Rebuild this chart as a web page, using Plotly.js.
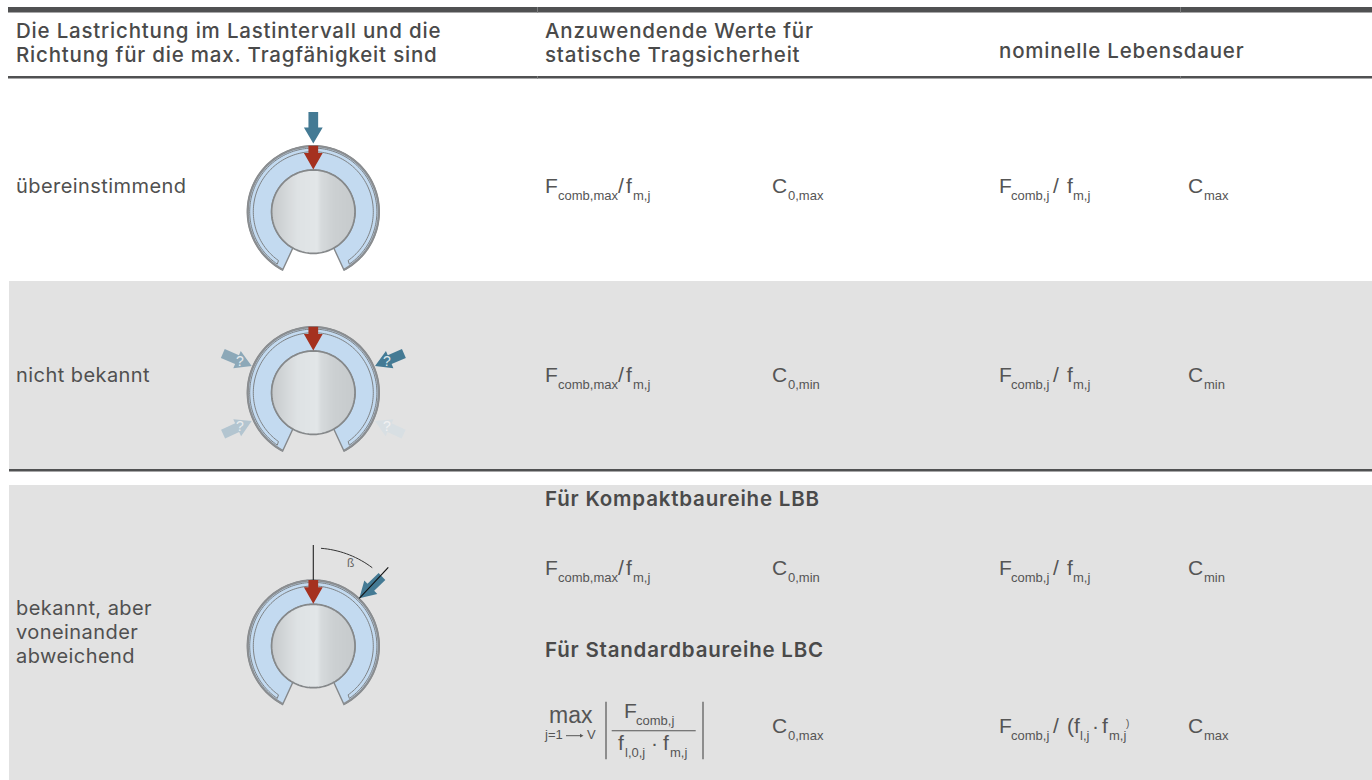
<!DOCTYPE html>
<html><head><meta charset="utf-8">
<script src="https://cdn.plot.ly/plotly-3.0.1.min.js"></script>
<style>
html,body{margin:0;padding:0;background:#fff;overflow:hidden}
text.annotation-text[style*="Inter"]{letter-spacing:.44px}
text.annotation-text[style*="Inter"][style*="font-weight: 500"],
text.annotation-text[style*="Inter"][style*="font-weight: 600"]{letter-spacing:.8px}
</style></head><body><div id="chart" style="width:1372px;height:780px"></div>
<script>
// ---- Text content ----
const headerCol1 = ["Die Lastrichtung im Lastintervall und die", "Richtung für die max. Tragfähigkeit sind"];
const headerCol2 = ["Anzuwendende Werte für", "statische Tragsicherheit"];
const headerCol3 = ["nominelle Lebensdauer"];
const rowLabels = ["übereinstimmend", "nicht bekannt"];
const rowLabelThree = ["bekannt, aber", "voneinander", "abweichend"];
const sectionHeads = ["Für Kompaktbaureihe LBB", "Für Standardbaureihe LBC"];
const staticSub = ["0,max", "0,min", "0,min", "0,max"];
const lifeSub = ["max", "min", "min", "max"];
const angleLabel = "ß";
const questionMark = "?";

const INK = "#505050", FORM = "#555555", GREY = "#e2e2e2", RULE = "#505152";
const HELV = "Liberation Sans, Arial, sans-serif", SANS = "Inter, sans-serif";
const shapes = [], annotations = [];

function txt(x, base, s, size, o) {
  o = o || {};
  const fam = o.family || HELV;
  annotations.push({xref:"x", yref:"y", x:x, y:base - size * (o.k === undefined ? 0.34 : o.k),
    text:s, showarrow:false, xanchor:o.anchor || "left", yanchor:"middle", borderpad:0, borderwidth:0,
    font:{family:fam, size:size, color:o.color || FORM, weight:o.weight || 400}});
}
function rect(x0, y0, x1, y1, c) {
  shapes.push({type:"rect", xref:"x", yref:"y", x0, y0, x1, y1, fillcolor:c, line:{width:0}, layer:"below"});
}
function poly(pts, close, fill, lc, lw) {
  const d = pts.map((p, i) => (i ? "L" : "M") + p[0].toFixed(2) + "," + p[1].toFixed(2)).join(" ") + (close ? " Z" : "");
  shapes.push({type:"path", xref:"x", yref:"y", path:d, fillcolor:fill || "rgba(0,0,0,0)",
    line:{width:lw || 0, color:lc || "rgba(0,0,0,0)"}, layer:"above"});
}
function pol(cx, cy, r, deg) { // deg measured from straight down, positive to the right
  const a = deg * Math.PI / 180;
  return [cx + r * Math.sin(a), cy + r * Math.cos(a)];
}
function arc(cx, cy, r, a0, a1) {
  const out = [], n = Math.ceil(Math.abs(a1 - a0) / 2);
  for (let i = 0; i <= n; i++) out.push(pol(cx, cy, r, a0 + (a1 - a0) * i / n));
  return out;
}
function arrow(tx, ty, dx, dy, color) { // tip position and unit direction of travel
  const L = 31.5, HL = 16, SW = 4.85, HW = 9.4, nx = -dy, ny = dx;
  const bx = tx - dx * HL, by = ty - dy * HL, ex = tx - dx * L, ey = ty - dy * L;
  poly([[tx,ty],[bx+nx*HW,by+ny*HW],[bx+nx*SW,by+ny*SW],[ex+nx*SW,ey+ny*SW],
        [ex-nx*SW,ey-ny*SW],[bx-nx*SW,by-ny*SW],[bx-nx*HW,by-ny*HW]], true, color);
}
const SHAFT_STOPS = [[-42,[198,201,203]],[-16,[222,226,228]],[4,[226,230,232]],[8,[214,218,220]],[20,[204,208,210]],[42,[198,202,204]]];
function shaftColor(x) {
  for (let i = 1; i < SHAFT_STOPS.length; i++) {
    const a = SHAFT_STOPS[i-1], b = SHAFT_STOPS[i];
    if (x <= b[0]) { const t = (x - a[0]) / (b[0] - a[0]);
      return "rgb(" + a[1].map((v, k) => Math.round(v + (b[1][k] - v) * t)).join(",") + ")"; }
  }
  return "rgb(198,202,204)";
}
function bearing(cx, cy) {
  const R = 66, r = 41.7;
  poly(arc(cx,cy,R,27.7,332.3).concat(arc(cx,cy,r,330.6,29.4)), true, "#c3daf0", "#85888b", 1.4);
  poly(arc(cx,cy,R-0.6,27.7,332.3), false, null, "#8b8e91", 2);
  poly(arc(cx,cy,60,35.5,324.5).concat(arc(cx,cy,63.6,325.5,34.5)), true, null, "#7e8285", 1);
  // shaft with brushed metal look
  const x0 = Math.round(cx - r), x1 = Math.round(cx + r);
  for (let x = x0; x < x1; x++) {
    const m = x + 0.5 - cx, h = Math.sqrt(Math.max(0, r * r - m * m));
    poly([[x,cy-h],[x+1,cy-h],[x+1,cy+h],[x,cy+h]], true, shaftColor(m));
  }
  poly(arc(cx,cy,r,0,360), true, null, "#85888a", 1.7);
  // red load arrow
  poly([[cx,cy-r-0.5],[cx-9.4,cy-r-17],[cx-4.85,cy-r-17],[cx-4.85,cy-R],[cx+4.85,cy-R],[cx+4.85,cy-r-17],[cx+9.4,cy-r-17]], true, "#a5311f");
}

// ---- Table frame ----
rect(9,281,1372,469,GREY);
rect(9,485,1372,780,GREY);
rect(8,7,1372,12.5,RULE);
rect(8,76,1372,78.5,RULE);
rect(9,469,1372,471.5,RULE);
[537,1180].forEach(x => { rect(x,7,x+1,12.5,"#7b7c7d"); rect(x,76,x+1,78.5,"#7b7c7d"); });

// ---- Headers ----
const HS = 20.5, BS = 20;
const H = {family:SANS,weight:500,color:"#4a4a4a",k:.36};
headerCol1.forEach((s,i)=>txt(16,38+24*i,s,HS,H));
headerCol2.forEach((s,i)=>txt(545,38+24*i,s,HS,H));
txt(999,58,headerCol3[0],HS,H);

// ---- Row labels ----
const B = {family:SANS,color:INK,k:.36};
txt(16,193,rowLabels[0],BS,B);
txt(16,382,rowLabels[1],BS,B);
rowLabelThree.forEach((s,i)=>txt(16,615+24*i,s,BS,B));
const S = {family:SANS,weight:600,color:"#4a4a4a",k:.36};
txt(545,506,sectionHeads[0],HS,S);
txt(545,657,sectionHeads[1],HS,S);

// ---- Formulas ----
const SUBD = 7.3, MS = 21;
function term(x, base, main, sub, subx) {
  txt(x, base, main, MS);
  txt(subx, base + SUBD, sub, 13);
}
[192.7, 381.7, 574.7].forEach((b, i) => {
  term(545, b, "F", "comb,max", 557.5);
  txt(618, b, "/", MS);
  txt(625.5, b, "f", MS);
  txt(632.5, b + SUBD, "m,j", 13);
  term(772, b, "C", staticSub[i], 787.5);
  term(999, b, "F", "comb,j", 1011);
  txt(1053, b, "/", MS);
  txt(1066.5, b, "f", MS);
  txt(1073, b + SUBD, "m,j", 13);
  term(1188, b, "C", lifeSub[i], 1203.5);
});
// last row: max |...|
const b4 = 732.7;
txt(549, 723.3, "max", 23);
txt(544.3, 739.3, "j=1", 13);
txt(587, 739.3, "V", 13);
poly([[566,735.7],[582,735.7]], false, null, FORM, 1);
poly([[580,733.8],[583.5,735.7],[580,737.6]], true, FORM);
poly([[606,701.7],[606,759.3]], false, null, "#555", 1.2);
poly([[703,701.7],[703,759.3]], false, null, "#555", 1.2);
poly([[611.7,730.7],[695.7,730.7]], false, null, "#555", 1.1);
term(624, 717.7, "F", "comb,j", 636);
term(618, 749.3, "f", "l,0,j", 625);
txt(651, 749.3, "·", MS);
term(663, 749.3, "f", "m,j", 670);
term(772, b4, "C", staticSub[3], 787.5);
term(999, b4, "F", "comb,j", 1011);
txt(1053, b4, "/", MS);
txt(1067, b4, "(f", MS);
txt(1079.5, b4 + SUBD, "l,j", 13);
txt(1092, b4, "·", MS);
txt(1102, b4, "f", MS);
txt(1108.5, b4 + SUBD, "m,j", 13);
txt(1126, 727, ")", 10);
term(1188, b4, "C", lifeSub[3], 1203.5);

// ---- Bearing pictograms ----
const CX = 313.3, CY = [211.7, 392.7, 646];
CY.forEach(y => bearing(CX, y));
arrow(CX, 143.5, 0, 1, "#447a94");

// row 2: possible load directions
const cy2 = CY[1];
const rad = (tx, ty) => { const dx = CX - tx, dy = cy2 - ty, l = Math.hypot(dx, dy); return [dx / l, dy / l]; };
function qArrow(tx, ty, color, qc) {
  const d = rad(tx, ty);
  arrow(tx, ty, d[0], d[1], color);
  txt(tx - d[0] * 13, ty - d[1] * 13 + 4.8, questionMark, 14, {anchor:"center", color:qc, k:.34});
}
qArrow(375, 366, "#447a94", "#dde7ec");
qArrow(251.7, 366, "#8ca8b8", "#e6ebee");
qArrow(251.7, 421, "#b3c5d0", "#e8ecee");
qArrow(375, 421, "#d8dfe3", "#f0f1f2");

// row 3: beta
const cy3 = CY[2];
poly([[CX,545],[CX,580]], false, null, "#222", 1.1);
arrow(359.3, 598.3, -0.72, 0.69, "#447a94");
poly([[359.3,598.3],[388.3,567.3]], false, null, "#111", 1.1);
poly(arc(CX,cy3,98,175.5,143), false, null, "#333", 1);
txt(350, 567.5, angleLabel, 12, {anchor:"center", color:"#666"});

const layout = {
  width:1372, height:780, margin:{l:0,r:0,t:0,b:0}, paper_bgcolor:"#fff", plot_bgcolor:"#fff", showlegend:false,
  xaxis:{range:[0,1372], visible:false, fixedrange:true},
  yaxis:{range:[780,0], visible:false, fixedrange:true},
  shapes, annotations
};
Plotly.newPlot("chart", [{x:[0,1372], y:[0,780], mode:"markers", marker:{opacity:0,size:1}, hoverinfo:"skip", type:"scatter"}], layout, {displayModeBar:false, staticPlot:true});
</script></body></html>
